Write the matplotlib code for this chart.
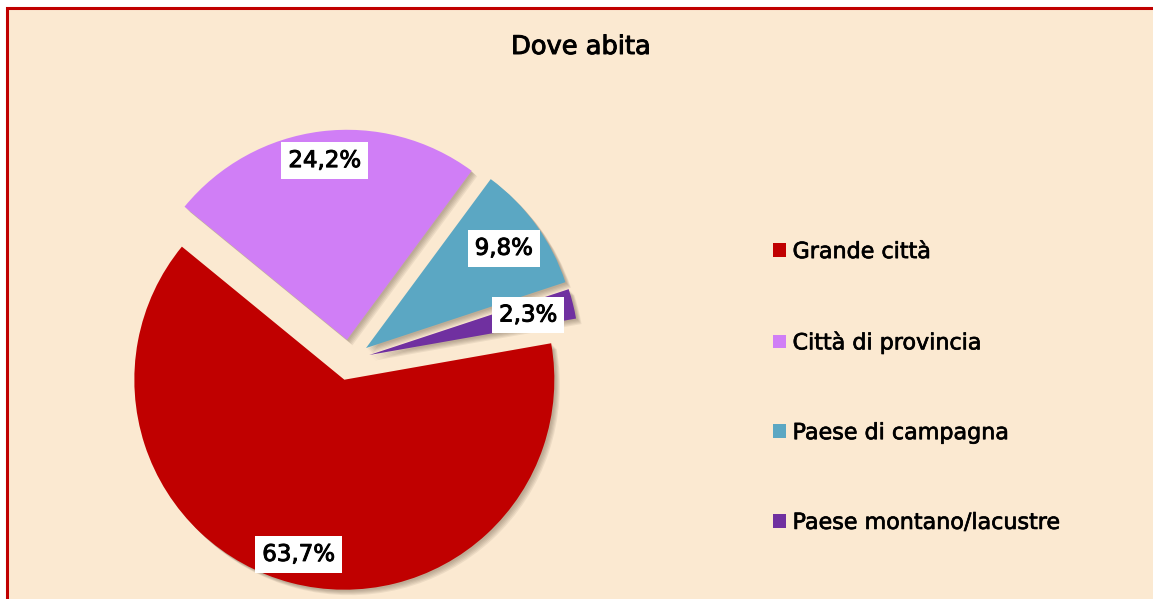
import numpy as np
import matplotlib.pyplot as plt
import matplotlib.patheffects as pe
from matplotlib.patches import Rectangle, Patch, Shadow

categories = ["Grande città", "Città di provincia", "Paese di campagna", "Paese montano/lacustre"]
values = [63.7, 24.2, 9.8, 2.3]
colors = ["#C00000", "#D07EF6", "#5BA7C3", "#7030A0"]

W, H = 1153, 599
fig = plt.figure(figsize=(W / 100, H / 100), dpi=100)
fig.patch.set_facecolor("white")

# slightly heavier strokes, the original font is a bold-looking sans
bold = [pe.withStroke(linewidth=0.7, foreground="black")]

# chart area with red border (right and bottom edges run off the image)
fig.add_artist(Rectangle((6.5 / W, -0.5), 1.5, 1.5 - 7.5 / H,
                         transform=fig.transFigure, facecolor="#FBE9D1",
                         edgecolor="#C00000", linewidth=2.2, zorder=0))

# pie axes: centre at (349.5, 360) px, radius 210 px
cx, cy, r, half = 349.5, 360, 210, 260
ax = fig.add_axes([(cx - half) / W, 1 - (cy + half) / H, 2 * half / W, 2 * half / H])
ax.set_aspect("equal")
ax.axis("off")

wedges, texts, autotexts = ax.pie(
    values, colors=colors, startangle=10, counterclock=False,
    explode=[0.097] * 4, radius=1,
    autopct=lambda p: f"{p:.1f}%".replace(".", ","),
    pctdistance=0.84,
    wedgeprops={"linewidth": 0, "zorder": 3},
    textprops={"fontsize": 16.5, "color": "black"},
)
ax.set_xlim(-half / r, half / r)
ax.set_ylim(-half / r, half / r)

# soft shadow: a few stacked offset copies behind each wedge
# (Shadow offsets end up in data units * dpi/72, so convert from pixels)
for w in wedges:
    for px in (1.5, 2.5, 3.5, 4.5, 5.5):
        o = px / r * 72 / 100
        ax.add_patch(Shadow(w, o, -o, facecolor="#5a4a3a", edgecolor="none",
                            alpha=0.09, zorder=2))

dists = [0.86, 0.86, 0.81, 0.78]
for w, t, d in zip(wedges, autotexts, dists):
    ang = np.deg2rad((w.theta1 + w.theta2) / 2)
    x0, y0 = w.center
    t.set_position((x0 + d * np.cos(ang), y0 + d * np.sin(ang)))
    t.set_zorder(5)
    t.set_path_effects(bold)
    t.set_bbox(dict(boxstyle="square,pad=0.3", facecolor="white", edgecolor="none"))

fig.text(581 / W, 1 - 47 / H, "Dove abita", ha="center", va="center",
         fontsize=18.5, path_effects=bold)

handles = [Patch(facecolor=c, edgecolor="none") for c in colors]
leg = fig.legend(handles, categories, loc="center left",
                 bbox_to_anchor=(773 / W, 1 - 387.5 / H), frameon=False,
                 fontsize=16, handlelength=0.58, handleheight=0.58,
                 handletextpad=0.3, labelspacing=3.14, borderpad=0, borderaxespad=0)
for t in leg.get_texts():
    t.set_path_effects([pe.withStroke(linewidth=0.5, foreground="black")])

fig.savefig("out.png", dpi=100, facecolor=fig.get_facecolor())
